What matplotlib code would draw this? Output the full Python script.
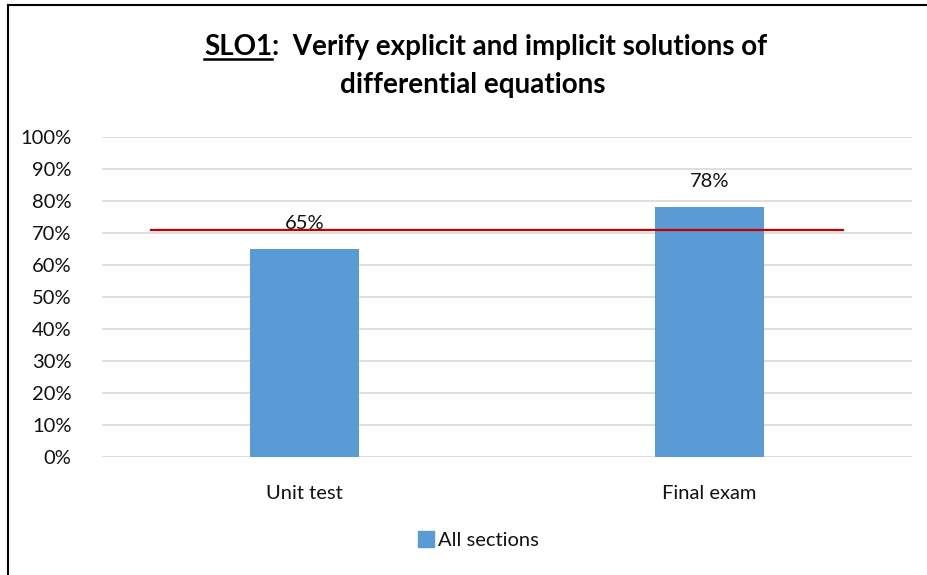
import matplotlib
matplotlib.use("Agg")
import matplotlib.pyplot as plt
from matplotlib.lines import Line2D
from matplotlib.ticker import PercentFormatter

# ─── DATA ───────────────────────────────────────────────────────────────────
categories = ["Unit test", "Final exam"]
all_sections = [0.65, 0.78]
target_level = 0.71
target_span = [-0.38, 1.33]
y_ticks = [i / 10 for i in range(11)]

BAR_COLOR = "#5B9BD5"
GRID_COLOR = "#D9D9D9"
TARGET_COLOR = "#C00000"
TEXT_COLOR = "#111111"
FONT = "Lato"

plt.rcParams["font.family"] = [FONT, "DejaVu Sans"]

W, H = 928, 575
fig = plt.figure(figsize=(W / 100, H / 100), dpi=100)

# plot area in pixel terms: x 102..912, y 137..457
ax = fig.add_axes([102 / W, 1 - 457 / H, 810 / W, 320 / H])

x = list(range(len(categories)))
ax.bar(x, all_sections, width=0.267, color=BAR_COLOR, zorder=3, label="All sections")
for xi, v in zip(x, all_sections):
    ax.text(xi, v + 0.08, f"{v:.0%}", ha="center", va="center", fontsize=14.5,
            color=TEXT_COLOR, zorder=4)

ax.plot(target_span, [target_level, target_level], color=TARGET_COLOR, lw=1.6, zorder=5)

ax.set_xlim(-0.5, 1.5)
ax.set_ylim(0, 1.0)
ax.set_yticks(y_ticks)
ax.yaxis.set_major_formatter(PercentFormatter(1.0, decimals=0))
ax.set_xticks(x)
ax.set_xticklabels(categories)
ax.tick_params(axis="both", length=0, labelsize=14.5, labelcolor=TEXT_COLOR)
ax.tick_params(axis="y", pad=22)
ax.tick_params(axis="x", pad=20)
ax.grid(axis="y", color=GRID_COLOR, lw=1.2, zorder=0)
for s in ax.spines.values():
    s.set_visible(False)

# legend at bottom
handle = Line2D([0], [0], marker="s", color="none", markerfacecolor=BAR_COLOR,
                markeredgecolor=BAR_COLOR, markersize=12)
fig.legend([handle], ["All sections"], loc="center", bbox_to_anchor=(478 / W, 1 - 540 / H),
           frameon=False, fontsize=14.5, handletextpad=0.2, handlelength=0.8,
           labelcolor=TEXT_COLOR)

# ─── TITLE (SLO1 underlined) ────────────────────────────────────────────────
fig.canvas.draw()
renderer = fig.canvas.get_renderer()
tsize = 20
part1 = fig.text(0, 1 - 47 / H, "SLO1", fontsize=tsize, weight="bold", va="center", ha="left")
part2 = fig.text(0, 1 - 47 / H, ":  Verify explicit and implicit solutions of", fontsize=tsize,
                 weight="bold", va="center", ha="left")
w1 = part1.get_window_extent(renderer).width
w2 = part2.get_window_extent(renderer).width
start = 486 - (w1 + w2) / 2
part1.set_x(start / W)
part2.set_x((start + w1) / W)
bb = part1.get_window_extent(renderer)
uy = bb.y0 + 1
fig.add_artist(Line2D([start / W, (start + w1) / W], [uy / H, uy / H], color="black", lw=1.8))
fig.text(473 / W, 1 - 85 / H, "differential equations", fontsize=tsize, weight="bold",
         va="center", ha="center")

# outer frame (left and top edges only visible)
fig.add_artist(Line2D([8.5 / W, 8.5 / W], [0, 1 - 5 / H], color="black", lw=1.5))
fig.add_artist(Line2D([8.5 / W, 1], [1 - 5 / H, 1 - 5 / H], color="black", lw=1.5))

fig.savefig("out.png", dpi=100)
